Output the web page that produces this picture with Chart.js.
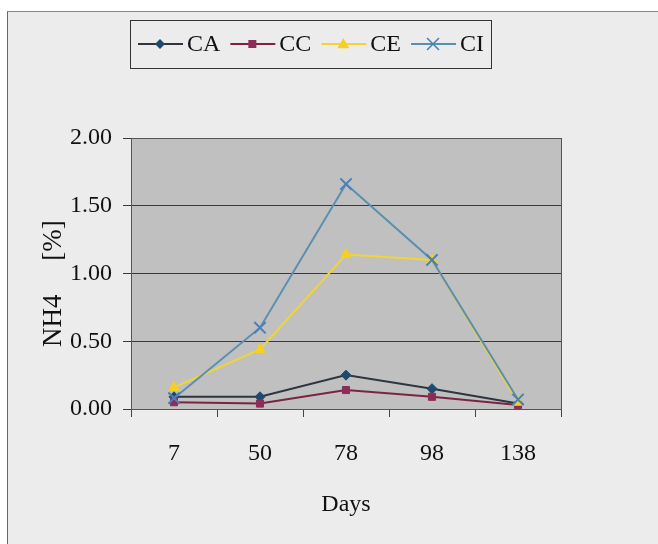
<!DOCTYPE html>
<html>
<head>
<meta charset="utf-8">
<script src="https://cdn.jsdelivr.net/npm/chart.js@4.4.1/dist/chart.umd.min.js"></script>
<style>
  html, body { margin: 0; padding: 0; background: #fff; width: 658px; height: 544px; overflow: hidden; }
  #frame { position: absolute; left: 7px; top: 11px; width: 660px; height: 540px; background: #ececec; border-left: 1px solid #666; border-top: 1px solid #888; }
  #wrap { position: absolute; left: 0; top: 0; width: 658px; height: 544px; }
</style>
</head>
<body>
<div id="frame"></div>
<div id="wrap"><canvas id="chart"></canvas></div>
<script>
/* NH4 content over time */

const days = ['7', '50', '78', '98', '138'];
const seriesNames = ['CA', 'CC', 'CE', 'CI'];
const caValues = [0.09, 0.09, 0.25, 0.15, 0.04];
const ccValues = [0.05, 0.04, 0.14, 0.09, 0.03];
const ceValues = [0.16, 0.44, 1.14, 1.10, 0.05];
const ciValues = [0.08, 0.60, 1.66, 1.10, 0.07];
const yMin = 0, yMax = 2, yStep = 0.5;

const SERIF = '"Liberation Serif", "Times New Roman", serif';

function drawMarker(ctx, style, x, y, r, fill, stroke) {
    ctx.save();
    ctx.fillStyle = fill;
    ctx.strokeStyle = stroke;
    ctx.lineWidth = 1.5;
    ctx.beginPath();
    if (style === 'rectRot') {
        ctx.moveTo(x, y - r); ctx.lineTo(x + r, y); ctx.lineTo(x, y + r); ctx.lineTo(x - r, y);
        ctx.closePath(); ctx.fill();
    } else if (style === 'rect') {
        ctx.rect(x - r * 0.8, y - r * 0.8, r * 1.6, r * 1.6); ctx.fill();
    } else if (style === 'triangle') {
        ctx.moveTo(x, y - r); ctx.lineTo(x + r, y + r * 0.7); ctx.lineTo(x - r, y + r * 0.7);
        ctx.closePath(); ctx.fill();
    } else if (style === 'crossRot') {
        const d = r * 0.75;
        ctx.moveTo(x - d, y - d); ctx.lineTo(x + d, y + d);
        ctx.moveTo(x + d, y - d); ctx.lineTo(x - d, y + d);
        ctx.stroke();
    }
    ctx.restore();
}

// grey plot background + frame, and the boxed legend on top
const plotFrame = {
    id: 'plotFrame',
    beforeDraw(chart) {
        const { ctx, chartArea: a } = chart;
        ctx.save();
        ctx.fillStyle = '#c0c0c0';
        ctx.fillRect(a.left, a.top, a.right - a.left, a.bottom - a.top);
        ctx.restore();
    },
    afterDraw(chart) {
        const { ctx, chartArea: a } = chart;
        ctx.save();
        ctx.strokeStyle = '#555';
        ctx.lineWidth = 1;
        ctx.strokeRect(Math.round(a.left) + 0.5, Math.round(a.top) + 0.5,
            Math.round(a.right - a.left), Math.round(a.bottom - a.top));

        // legend
        const x0 = 130, y0 = 20, w = 361, h = 48, cy = y0 + h / 2;
        ctx.font = '24px ' + SERIF;
        ctx.textBaseline = 'middle';
        let x = x0 + 8;
        chart.data.datasets.forEach(ds => {
            ctx.strokeStyle = ds.borderColor;
            ctx.lineWidth = 2;
            ctx.beginPath(); ctx.moveTo(x, cy); ctx.lineTo(x + 45, cy); ctx.stroke();
            drawMarker(ctx, ds.pointStyle, x + 22, cy, ds.pointRadius, ds.pointBackgroundColor, ds.pointBorderColor);
            x += 49;
            ctx.fillStyle = '#111';
            ctx.fillText(ds.label, x, cy + 1);
            x += ctx.measureText(ds.label).width + 10;
        });
        ctx.strokeStyle = '#333';
        ctx.lineWidth = 1;
        ctx.strokeRect(x0 + 0.5, y0 + 0.5, w, h);
        ctx.restore();
    }
};

const ctx = document.getElementById('chart').getContext('2d');
new Chart(ctx, {
    type: 'line',
    data: {
        labels: days,
        datasets: [
            { label: seriesNames[0], data: caValues, borderColor: '#2e3440', pointStyle: 'rectRot',
              pointRadius: 5, pointBackgroundColor: '#1f4a6e', pointBorderColor: '#1f4a6e', order: 4 },
            { label: seriesNames[1], data: ccValues, borderColor: '#7a2445', pointStyle: 'rect',
              pointRadius: 5, pointBackgroundColor: '#8c2d58', pointBorderColor: '#8c2d58', order: 3 },
            { label: seriesNames[2], data: ceValues, borderColor: '#f2d437', pointStyle: 'triangle',
              pointRadius: 6, pointBackgroundColor: '#f5d020', pointBorderColor: '#f5d020', order: 2 },
            { label: seriesNames[3], data: ciValues, borderColor: '#5b8fae', pointStyle: 'crossRot',
              pointRadius: 8, pointBackgroundColor: '#4a80b8', pointBorderColor: '#4a80b8', pointBorderWidth: 2, order: 1 }
        ].map(ds => Object.assign({ borderWidth: 2, tension: 0, fill: false, pointBorderWidth: 1 }, ds))
    },
    options: {
        responsive: true,
        maintainAspectRatio: false,
        animation: false,
        layout: { padding: { top: 138, right: 97, bottom: 0, left: 0 } },
        plugins: { legend: { display: false }, tooltip: { enabled: false } },
        scales: {
            x: {
                offset: true,
                afterFit: s => { s.height = 135; },
                grid: { offset: true, drawOnChartArea: false, drawTicks: true, tickLength: 8, color: '#444' },
                border: { color: '#444' },
                ticks: { color: '#111', padding: 22, font: { family: SERIF, size: 24 } },
                title: { display: true, text: 'Days', color: '#111', padding: { top: 0, bottom: 25 },
                         font: { family: SERIF, size: 24 } }
            },
            y: {
                min: yMin,
                max: yMax,
                afterFit: s => { s.width = 131; },
                ticks: { stepSize: yStep, color: '#111', padding: 11, font: { family: SERIF, size: 24 },
                         callback: v => v.toFixed(2) },
                grid: { color: '#3a3a3a', tickLength: 8 },
                border: { color: '#444' },
                title: { display: true, text: 'NH4     [%]   ', color: '#111', padding: { top: 38 },
                         font: { family: SERIF, size: 27 } }
            }
        }
    },
    plugins: [plotFrame]
});
</script>
</body>
</html>
